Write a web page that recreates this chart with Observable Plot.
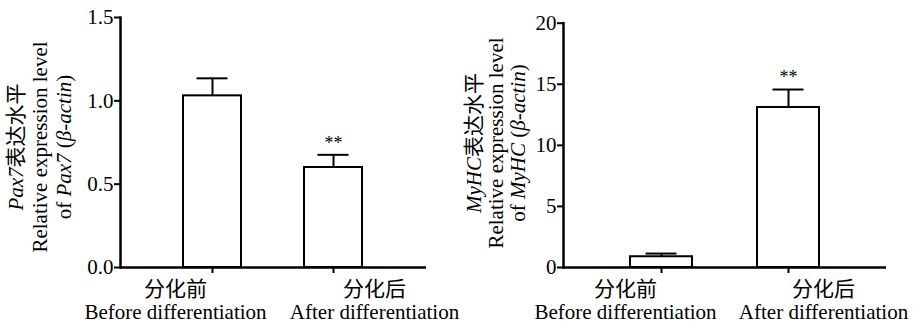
<!DOCTYPE html>
<html>
<head>
<meta charset="utf-8">
<script src="https://cdn.jsdelivr.net/npm/d3@7"></script>
<script src="https://cdn.jsdelivr.net/npm/@observablehq/plot@0.6"></script>
<style>
  html, body { margin: 0; padding: 0; background: white; }
  #wrap { display: flex; width: 913px; height: 328px; }
  #wrap svg { display: block; }
</style>
</head>
<body>
<div id="wrap"></div>
<script>
// ---- data ----
const groups = ["分化前", "分化后"];
const groupsEn = ["Before differentiation", "After differentiation"];
const pax7Mean = [1.03, 0.60];
const pax7Err = [0.105, 0.076];
const myhcMean = [0.88, 13.1];
const myhcErr = [0.26, 1.47];
const signif = ["", "**"];
const pax7Ticks = [0, 0.5, 1.0, 1.5];
const myhcTicks = [0, 5, 10, 15, 20];

const FONT = "'Liberation Serif', 'Times New Roman', 'Noto Sans CJK SC', serif";

function panel({mean, err, ticks, domain, fmt, width, marginLeft, marginRight, marginTop, padding, labelDx, titleLines, titleX, titleY}) {
  const data = groups.map((g, i) => ({g, en: groupsEn[i], v: mean[i], e: err[i], s: signif[i], lab: g + "\n" + groupsEn[i]}));
  const plot = Plot.plot({
    width, height: 328,
    marginLeft, marginRight, marginTop, marginBottom: 61,
    style: {fontFamily: FONT, fontSize: "21px", color: "black", background: "white"},
    x: {domain: groups, paddingInner: padding[0], paddingOuter: padding[1], axis: null, label: null},
    y: {domain, axis: null, label: null},
    marks: [
      Plot.barY(data, {x: "g", y: "v", fill: "white", stroke: "black", strokeWidth: 2}),
      Plot.ruleX(data, {x: "g", y1: "v", y2: d => d.v + d.e, stroke: "black", strokeWidth: 2}),
      Plot.tickY(data, {x: "g", y: d => d.v + d.e, stroke: "black", strokeWidth: 2, insetLeft: padding[2], insetRight: padding[2]}),
      Plot.text(data, {x: "g", y: d => d.v + d.e, text: "s", dy: -12, fontSize: 18, fill: "black", fontFamily: FONT}),
      Plot.frame({anchor: "left", stroke: "black", strokeWidth: 2.5}),
      Plot.ruleY([0], {stroke: "black", strokeWidth: 2.5}),
      Plot.axisY({ticks, tickFormat: fmt, tickSize: 6, tickPadding: 1, strokeWidth: 2, fontSize: 21, fontFamily: FONT, label: null}),
      Plot.axisX({tickSize: 6, tickFormat: () => "", strokeWidth: 2, label: null}),
      Plot.text(data.filter((d, i) => i === 0), {x: "g", text: "lab", frameAnchor: "bottom", lineAnchor: "top", dy: 12, dx: labelDx[0], lineHeight: 1.1, fontSize: 21, fill: "black", fontFamily: FONT}),
      Plot.text(data.filter((d, i) => i === 1), {x: "g", text: "lab", frameAnchor: "bottom", lineAnchor: "top", dy: 12, dx: labelDx[1], lineHeight: 1.1, fontSize: 21, fill: "black", fontFamily: FONT})
    ]
  });
  // y-axis title with italic gene names
  const svg = d3.select(plot);
  titleLines.forEach((parts, i) => {
    const t = svg.append("text")
      .attr("transform", `translate(${titleX[i]},${titleY}) rotate(-90)`)
      .attr("text-anchor", "middle")
      .style("font-family", FONT)
      .style("font-size", "21px")
      .attr("fill", "black");
    parts.forEach(([s, it]) => {
      t.append("tspan").style("font-style", it ? "italic" : "normal").text(s);
    });
  });
  return plot;
}

const wrap = document.getElementById("wrap");
wrap.append(panel({
  mean: pax7Mean, err: pax7Err, ticks: pax7Ticks, domain: [0, 1.5], fmt: d3.format(".1f"),
  width: 460, marginLeft: 120, marginRight: 34, marginTop: 17,
  padding: [0.52, 0.52, 13.5], labelDx: [-37, 41],
  titleLines: [
    [["Pax7", true], ["表达水平", false]],
    [["Relative expression level", false]],
    [["of ", false], ["Pax7", true], [" (", false], ["β-actin", true], [")", false]]
  ],
  titleX: [23, 47, 71], titleY: 147
}));
wrap.append(panel({
  mean: myhcMean, err: myhcErr, ticks: myhcTicks, domain: [0, 20], fmt: d3.format("d"),
  width: 453, marginLeft: 103, marginRight: 27, marginTop: 22.7,
  padding: [0.51, 0.517, 15.5], labelDx: [-36, 35],
  titleLines: [
    [["MyHC", true], ["表达水平", false]],
    [["Relative expression level", false]],
    [["of ", false], ["MyHC", true], [" (", false], ["β-actin", true], [")", false]]
  ],
  titleX: [21, 43, 65], titleY: 143
}));
</script>
</body>
</html>
